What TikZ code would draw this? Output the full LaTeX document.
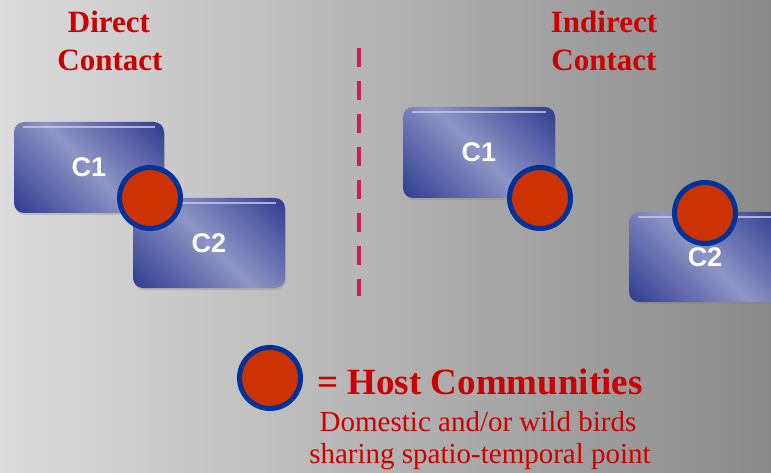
\documentclass[tikz,border=0pt]{standalone}
\usepackage{fontspec}
\setmainfont{Liberation Serif}
\setsansfont{Liberation Sans}
\usetikzlibrary{shadows}

\definecolor{hostred}{HTML}{CC3300}
\definecolor{hostrim}{HTML}{003399}
\definecolor{headred}{HTML}{CC0000}
\definecolor{divpink}{HTML}{C81E5A}
\definecolor{boxdark}{HTML}{26368A}
\definecolor{boxmid}{HTML}{5862A8}
\definecolor{boxlight}{HTML}{8E95C5}
\definecolor{bgleft}{HTML}{DCDCDC}
\definecolor{bgmid}{HTML}{C6C6C6}
\definecolor{bgright}{HTML}{8A8A8A}

\pgfdeclarehorizontalshading{boxshade}{100bp}{color(0bp)=(boxdark); color(12bp)=(boxdark); color(30bp)=(boxmid); color(50bp)=(boxlight); color(70bp)=(boxmid); color(88bp)=(boxdark); color(100bp)=(boxdark)}

\tikzset{
  cbox/.style={rounded corners=10pt, minimum width=152pt, minimum height=90pt, inner sep=0pt,
    shading=boxshade, shading angle=45, text=white,
    font=\sffamily\bfseries\fontsize{27}{27}\selectfont,
    drop shadow={opacity=0.3, shadow xshift=1pt, shadow yshift=-2pt},
    path picture={\draw[boxlight!50!white, line width=2pt, opacity=0.8]
      ([xshift=9pt,yshift=-5pt]path picture bounding box.north west) --
      ([xshift=-9pt,yshift=-5pt]path picture bounding box.north east);}},
  hostdot/.style={circle, draw=hostrim, line width=5pt, fill=hostred, minimum size=61pt, inner sep=0pt},
  headtext/.style={anchor=base, text=headred, inner sep=0pt, font=\bfseries\fontsize{31}{37}\selectfont},
  notetext/.style={anchor=base, text=headred, inner sep=0pt, font=\fontsize{29}{32}\selectfont},
}

\begin{document}
\begin{tikzpicture}[x=1pt,y=-1pt]
    \clip (0,0) rectangle (771,473);
    \shade [left color=bgleft, middle color=bgmid, right color=bgright] (0,0) rectangle (771,473);
    % titles
    \node [headtext] (direct) at (109,33) {Direct};
    \node [headtext] (dcontact) at (110,71) {Contact};
    \node [headtext] (indirect) at (604,33) {Indirect};
    \node [headtext] (icontact) at (604,71) {Contact};
    % divider
    \coordinate (divtop) at (359,48);
    \coordinate (divbot) at (359,296);
    \draw [divpink, line width=4pt, dash pattern=on 19pt off 14pt] (divtop) -- (divbot);
    % direct contact
    \node [cbox, minimum width=150pt, minimum height=91pt] (dc1) at (89,167.5) {C1};
    \node [cbox] (dc2) at (209,243) {C2};
    \node [hostdot] (dhost) at (150,198) {};
    % indirect contact
    \node [cbox, minimum height=91pt] (ic1) at (479,152.5) {C1};
    \node [cbox] (ic2) at (705,257) {C2};
    \node [hostdot] (ihost1) at (540,198) {};
    \node [hostdot] (ihost2) at (705,213) {};
    % legend
    \node [hostdot] (keyhost) at (270,378) {};
    \node [notetext, font=\bfseries\fontsize{37}{37}\selectfont] (keylabel) at (480,394) {= Host Communities};
    \node [notetext] (keyline1) at (478,431) {Domestic and/or wild birds};
    \node [notetext] (keyline2) at (480,463) {sharing spatio-temporal point};
\end{tikzpicture}
\end{document}
